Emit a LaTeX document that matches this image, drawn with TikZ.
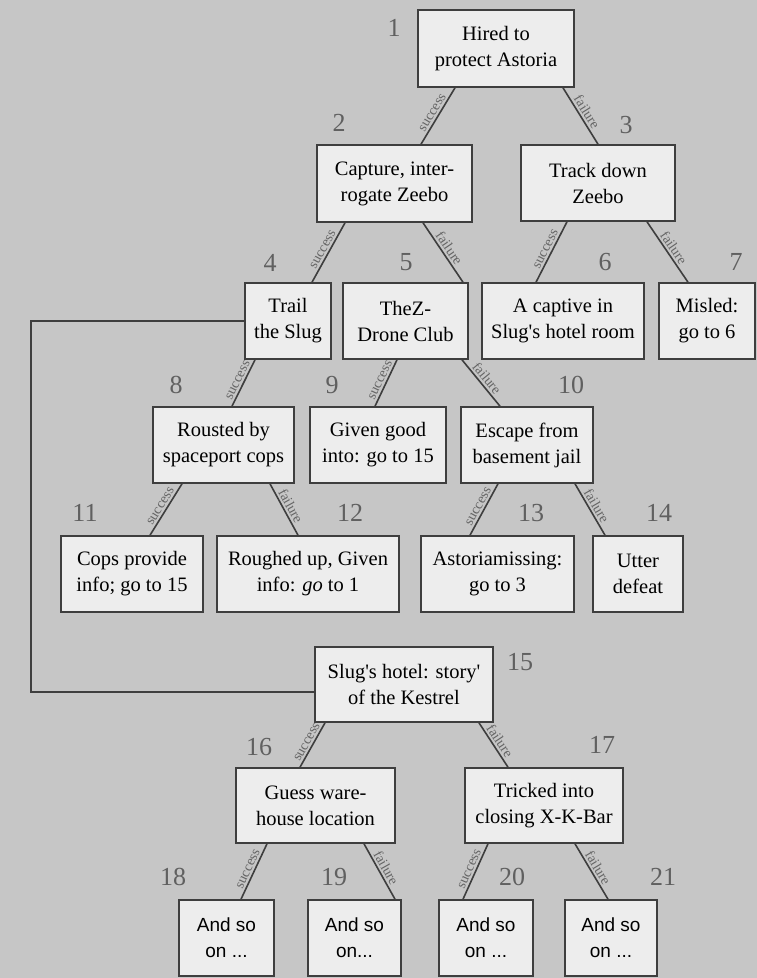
\documentclass[tikz,border=0pt]{standalone}
\usepackage{fontspec}
\usepackage{xcolor}
\usepackage{tikz}
\setmainfont{Liberation Serif}
\newfontfamily\andsofont{Liberation Sans}
\definecolor{pagegray}{RGB}{198, 198, 198}
\definecolor{boxfill}{RGB}{237, 237, 237}
\definecolor{boxline}{RGB}{62, 62, 62}
\definecolor{numgray}{RGB}{96, 96, 96}
\definecolor{taggray}{RGB}{100, 100, 100}

\begin{document}
\begin{tikzpicture}[
  x=1pt, y=-1pt,
  box/.style={rectangle, draw=boxline, fill=boxfill, line width=1.6pt, inner sep=0pt,
              minimum height=76pt, align=center, font=\fontsize{20.5}{26}\selectfont},
  link/.style={draw=boxline, line width=1.6pt},
  outcome/.style={font=\fontsize{14}{14}\selectfont, text=taggray, sloped, midway, above, inner sep=2pt},
  num/.style={font=\fontsize{26}{26}\selectfont, text=numgray}
]
\fill[pagegray] (0,0) rectangle (757,978);
\useasboundingbox (0,0) rectangle (757,978);

% story boxes
\node[box, minimum width=156pt, minimum height=77pt] (b1) at (496,48.5) {Hired to\\protect Astoria};
\node[box, minimum width=155pt, minimum height=77pt] (b2) at (394.5,183.5) {Capture, inter-\\rogate Zeebo};
\node[box, minimum width=154pt] (b3) at (598,183) {Track down\\Zeebo};
\node[box, minimum width=86pt] (b4) at (288,321) {Trail\\the Slug};
\node[box, minimum width=125pt] (b5) at (405.5,321) {TheZ-\\Drone Club};
\node[box, minimum width=162pt] (b6) at (563,321) {A captive in\\Slug\textquotesingle s hotel room};
\node[box, minimum width=96pt] (b7) at (707,321) {Misled:\\go to 6};
\node[box, minimum width=141pt] (b8) at (223.5,445) {Rousted by\\spaceport cops};
\node[box, minimum width=136pt] (b9) at (378,445) {Given good\\into: go to 15};
\node[box, minimum width=132pt] (b10) at (527,445) {Escape from\\basement jail};
\node[box, minimum width=142pt] (b11) at (132,574) {Cops provide\\info; go to 15};
\node[box, minimum width=182pt] (b12) at (308,574) {Roughed up, Given\\info: \textit{go} to 1};
\node[box, minimum width=153pt] (b13) at (497.5,574) {Astoriamissing:\\go to 3};
\node[box, minimum width=90pt] (b14) at (638,574) {Utter\\defeat};
\node[box, minimum width=178pt, minimum height=75pt] (b15) at (404,684.5) {Slug\textquotesingle s hotel: story\textquotesingle\\of the Kestrel};
\node[box, minimum width=159pt, minimum height=75pt] (b16) at (315.5,805.5) {Guess ware-\\house location};
\node[box, minimum width=158pt, minimum height=75pt] (b17) at (544,805.5) {Tricked into\\closing X-K-Bar};
\node[box, minimum width=95pt, font=\andsofont\fontsize{19}{26}\selectfont] (b18) at (226.5,938) {And so\\on ...};
\node[box, minimum width=93pt, font=\andsofont\fontsize{19}{26}\selectfont] (b19) at (354.5,938) {And so\\on...};
\node[box, minimum width=94pt, font=\andsofont\fontsize{19}{26}\selectfont] (b20) at (486,938) {And so\\on ...};
\node[box, minimum width=92pt, font=\andsofont\fontsize{19}{26}\selectfont] (b21) at (611,938) {And so\\on ...};

% step numbers
\node[num] (n1) at (394,28) {1};
\node[num] (n2) at (339,123) {2};
\node[num] (n3) at (626,125) {3};
\node[num] (n4) at (270,263) {4};
\node[num] (n5) at (406,262) {5};
\node[num] (n6) at (605,262) {6};
\node[num] (n7) at (736,262) {7};
\node[num] (n8) at (176,385) {8};
\node[num] (n9) at (332,385) {9};
\node[num] (n10) at (571,385) {10};
\node[num] (n11) at (85,513) {11};
\node[num] (n12) at (350,513) {12};
\node[num] (n13) at (531,513) {13};
\node[num] (n14) at (659,513) {14};
\node[num] (n15) at (520,662) {15};
\node[num] (n16) at (259,747) {16};
\node[num] (n17) at (602,745) {17};
\node[num] (n18) at (173,877) {18};
\node[num] (n19) at (334,877) {19};
\node[num] (n20) at (512,877) {20};
\node[num] (n21) at (663,877) {21};

% branches
\draw[link] ([xshift=-41pt]b1.south) -- node[outcome]{success} ([xshift=26.5pt]b2.north);
\draw[link] ([xshift=67pt]b1.south) -- node[outcome]{failure} (b3.north);
\draw[link] ([xshift=-49.5pt]b2.south) -- node[outcome]{success} ([xshift=24pt]b4.north);
\draw[link] ([xshift=28.5pt]b2.south) -- node[outcome]{failure} ([xshift=57.5pt]b5.north);
\draw[link] ([xshift=-31pt]b3.south) -- node[outcome]{success} ([xshift=-27pt]b6.north);
\draw[link] ([xshift=49pt]b3.south) -- node[outcome]{failure} ([xshift=-19pt]b7.north);
\draw[link] ([xshift=-33pt]b4.south) -- node[outcome]{success} ([xshift=8.5pt]b8.north);
\draw[link] ([xshift=-8.5pt]b5.south) -- node[outcome]{success} ([xshift=-3pt]b9.north);
\draw[link] ([xshift=56.5pt]b5.south) -- node[outcome]{failure} ([xshift=-27pt]b10.north);
\draw[link] ([xshift=-41.5pt]b8.south) -- node[outcome]{success} ([xshift=18pt]b11.north);
\draw[link] ([xshift=46.5pt]b8.south) -- node[outcome]{failure} ([xshift=-10pt]b12.north);
\draw[link] ([xshift=-29pt]b10.south) -- node[outcome]{success} ([xshift=-27.5pt]b13.north);
\draw[link] ([xshift=48pt]b10.south) -- node[outcome]{failure} ([xshift=-33pt]b14.north);
\draw[link] ([xshift=-79pt]b15.south) -- node[outcome]{success} ([xshift=-15.5pt]b16.north);
\draw[link] ([xshift=75pt]b15.south) -- node[outcome]{failure} ([xshift=-36pt]b17.north);
\draw[link] ([xshift=-48.5pt]b16.south) -- node[outcome]{success} ([xshift=14.5pt]b18.north);
\draw[link] ([xshift=48.5pt]b16.south) -- node[outcome]{failure} ([xshift=40.5pt]b19.north);
\draw[link] ([xshift=-56pt]b17.south) -- node[outcome]{success} ([xshift=-23pt]b20.north);
\draw[link] ([xshift=31pt]b17.south) -- node[outcome]{failure} ([xshift=-3pt]b21.north);

% jump from 4 to 15
\draw[link] (b4.west) -- ++(-213,0) |- ([yshift=-7.5pt]b15.west);
\end{tikzpicture}
\end{document}
